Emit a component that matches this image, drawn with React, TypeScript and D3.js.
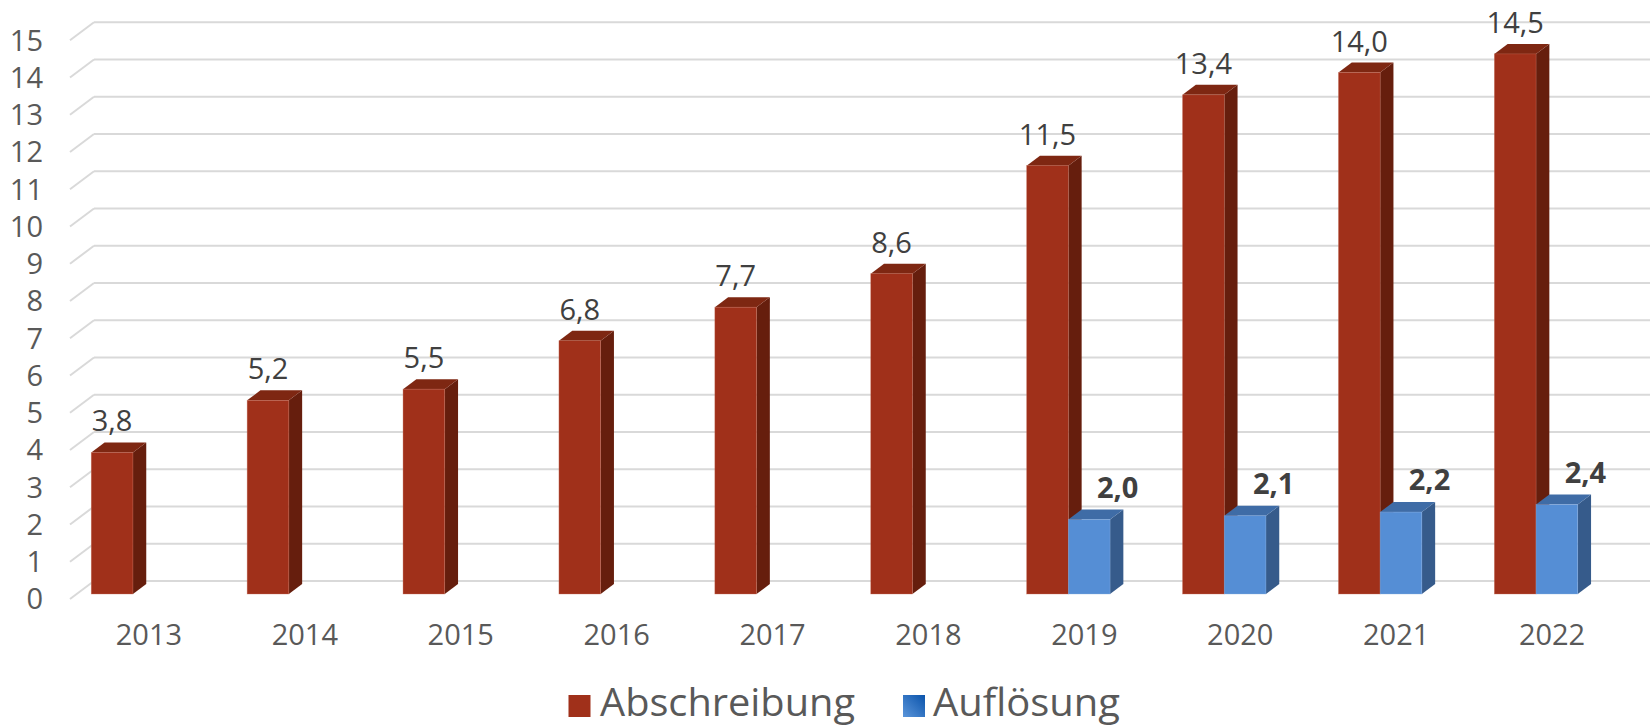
import { useEffect, useRef } from "react";
import * as d3 from "d3";

const years = ["2013", "2014", "2015", "2016", "2017", "2018", "2019", "2020", "2021", "2022"];
const abschreibung = [3.8, 5.2, 5.5, 6.8, 7.7, 8.6, 11.5, 13.4, 14.0, 14.5];
const aufloesung = [null, null, null, null, null, null, 2.0, 2.1, 2.2, 2.4];
const seriesNames = ["Abschreibung", "Auflösung"];
const yTickValues = [0, 1, 2, 3, 4, 5, 6, 7, 8, 9, 10, 11, 12, 13, 14, 15];

const width = 1650;
const height = 727;
const font = "'Open Sans', 'Noto Sans', sans-serif";

// colours for front / side / top faces
const faces = {
  Abschreibung: { front: "#A0301A", side: "#661E0D", top: "#7E2712", edge: "#C8735F" },
  "Auflösung": { front: "#558ED5", side: "#365B8B", top: "#3F6CA6", edge: "#8DB3E2" },
};

function App() {
  const ref = useRef(null);

  useEffect(() => {
    const svg = d3.select(ref.current);
    svg.selectAll("*").remove();

    // bar plane geometry
    const y = d3.scaleLinear([0, 15], [594, 594 - 15 * 37.25]);
    const x = d3.scaleBand(years, [55, 1614]).paddingInner(0.465).paddingOuter(0.2325);
    const xs = d3.scaleBand(seriesNames, [0, x.bandwidth()]);

    // offsets of the back wall and front edge relative to the bar plane
    const backDx = 17, backDy = -13;
    const frontDx = -7, frontDy = 5;
    const wallX = 77;
    // bar depth
    const bdx = 13.3, bdy = -10;

    const grid = svg.append("g");
    yTickValues.forEach((v) => {
      grid.append("line")
        .attr("x1", wallX + backDx).attr("y1", y(v) + backDy)
        .attr("x2", width).attr("y2", y(v) + backDy)
        .attr("stroke", "#D9D9D9").attr("stroke-width", 2);
      grid.append("line")
        .attr("x1", wallX + frontDx).attr("y1", y(v) + frontDy)
        .attr("x2", wallX + backDx).attr("y2", y(v) + backDy)
        .attr("stroke", "#D9D9D9").attr("stroke-width", 2);
    });

    svg.append("g")
      .selectAll("text")
      .data(yTickValues)
      .join("text")
      .attr("x", 43)
      .attr("y", (d) => y(d) + frontDy)
      .attr("dy", "0.36em")
      .attr("text-anchor", "end")
      .attr("font-family", font)
      .attr("font-size", 29)
      .attr("fill", "#595959")
      .text((d) => d);

    svg.append("g")
      .selectAll("text")
      .data(years)
      .join("text")
      .attr("x", (d) => x(d) + x.bandwidth() / 2 + 16)
      .attr("y", 645)
      .attr("text-anchor", "middle")
      .attr("font-family", font)
      .attr("font-size", 29)
      .attr("fill", "#595959")
      .text((d) => d);

    const drawBar = (g, x0, w, v, c) => {
      const y0 = y(0), y1 = y(v);
      g.append("polygon")
        .attr("points", [[x0 + w, y1], [x0 + w + bdx, y1 + bdy], [x0 + w + bdx, y0 + bdy], [x0 + w, y0]].join(" "))
        .attr("fill", c.side);
      g.append("polygon")
        .attr("points", [[x0, y1], [x0 + bdx, y1 + bdy], [x0 + w + bdx, y1 + bdy], [x0 + w, y1]].join(" "))
        .attr("fill", c.top);
      g.append("rect")
        .attr("x", x0).attr("y", y1)
        .attr("width", w).attr("height", y0 - y1)
        .attr("fill", c.front)
        .attr("stroke", c.edge).attr("stroke-width", 0.6).attr("stroke-opacity", 0.6);
    };

    const bars = svg.append("g");
    const labels = svg.append("g")
      .attr("font-family", font)
      .attr("font-size", 29)
      .attr("fill", "#404040");

    years.forEach((yr, i) => {
      const a = abschreibung[i];
      const b = aufloesung[i];
      const xa = x(yr) + xs("Abschreibung");
      const xb = x(yr) + xs("Auflösung");
      const w = xs.bandwidth();
      drawBar(bars, xa, w, a, faces.Abschreibung);
      labels.append("text")
        .attr("x", xa + w / 2)
        .attr("y", y(a) - 21)
        .attr("text-anchor", "middle")
        .text(d3.format(".1f")(a).replace(".", ","));
      if (b != null) {
        drawBar(bars, xb, w, b, faces["Auflösung"]);
        labels.append("text")
          .attr("x", xb + w / 2 + 28.5)
          .attr("y", y(b) - 22)
          .attr("text-anchor", "middle")
          .attr("font-weight", "bold")
          .text(d3.format(".1f")(b).replace(".", ","));
      }
    });

    // legend
    const defs = svg.append("defs");
    const grad = defs.append("linearGradient")
      .attr("id", "legendBlue")
      .attr("x1", "0%").attr("y1", "100%")
      .attr("x2", "100%").attr("y2", "0%");
    grad.append("stop").attr("offset", "0%").attr("stop-color", "#5B95DA");
    grad.append("stop").attr("offset", "100%").attr("stop-color", "#0A53AB");

    const legend = svg.append("g")
      .attr("font-family", font)
      .attr("font-size", 38)
      .attr("fill", "#595959");
    const legendItems = [
      { name: seriesNames[0], fill: faces.Abschreibung.front, sx: 568.5, tx: 600, len: 255 },
      { name: seriesNames[1], fill: "url(#legendBlue)", sx: 903, tx: 933, len: 187 },
    ];
    legendItems.forEach((d) => {
      legend.append("rect")
        .attr("x", d.sx).attr("y", 695)
        .attr("width", 22).attr("height", 22)
        .attr("fill", d.fill);
      legend.append("text")
        .attr("x", d.tx).attr("y", 716)
        .attr("textLength", d.len)
        .attr("lengthAdjust", "spacingAndGlyphs")
        .text(d.name);
    });
  }, []);

  return (
    <svg
      ref={ref}
      width={width}
      height={height}
      style={{ position: "absolute", left: 0, top: 0, display: "block", background: "#fff" }}
    />
  );
}

export default App;
